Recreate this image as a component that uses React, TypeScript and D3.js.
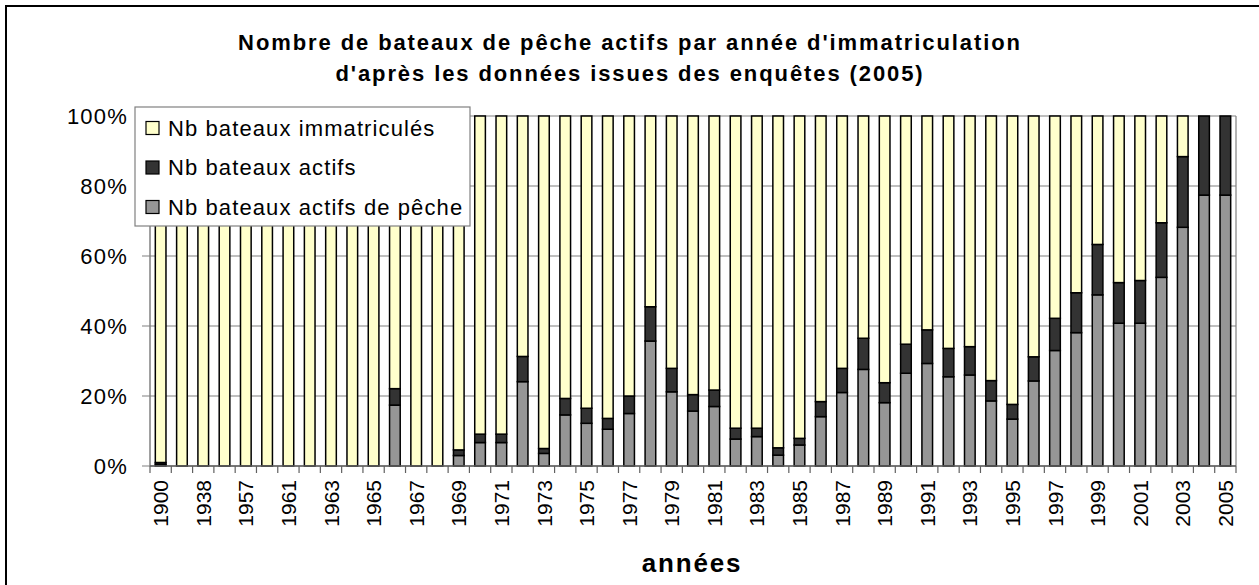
import React from 'react';
import * as d3 from 'd3';

// années d'immatriculation (one label shown out of two)
const years = [
  '1900', '1930', '1938', '1950', '1957', '1960', '1961', '1962', '1963', '1964',
  '1965', '1966', '1967', '1968', '1969', '1970', '1971', '1972', '1973', '1974',
  '1975', '1976', '1977', '1978', '1979', '1980', '1981', '1982', '1983', '1984',
  '1985', '1986', '1987', '1988', '1989', '1990', '1991', '1992', '1993', '1994',
  '1995', '1996', '1997', '1998', '1999', '2000', '2001', '2002', '2003', '2004', '2005',
];

// share of each year's boats, in %
const pecheActifs = [
  0.5, 0, 0, 0, 0, 0, 0, 0, 0, 0,
  0, 17.4, 0, 0, 3.0, 6.7, 6.7, 24.1, 3.6, 14.6,
  12.2, 10.5, 15.0, 35.7, 21.2, 15.7, 17.0, 7.7, 8.4, 3.1,
  6.0, 14.1, 21.0, 27.6, 18.1, 26.5, 29.3, 25.5, 26.0, 18.6,
  13.4, 24.3, 33.0, 38.1, 48.9, 40.8, 40.8, 53.9, 68.2, 77.4, 77.4,
];
const actifs = [
  0.5, 0, 0, 0, 0, 0, 0, 0, 0, 0,
  0, 4.7, 0, 0, 1.6, 2.4, 2.4, 7.2, 1.4, 4.7,
  4.3, 3.1, 5.0, 9.8, 6.7, 4.7, 4.7, 3.1, 2.4, 2.1,
  1.9, 4.3, 6.9, 8.9, 5.7, 8.3, 9.6, 8.1, 8.1, 5.8,
  4.2, 6.9, 9.2, 11.4, 14.4, 11.6, 12.2, 15.6, 20.2, 22.6, 22.6,
];
const immatricules = [
  99.0, 100, 100, 100, 100, 100, 100, 100, 100, 100,
  100, 77.9, 100, 100, 95.4, 90.9, 90.9, 68.7, 95.0, 80.7,
  83.5, 86.4, 80.0, 54.5, 72.1, 79.6, 78.3, 89.2, 89.2, 94.8,
  92.1, 81.6, 72.1, 63.5, 76.2, 65.2, 61.1, 66.4, 65.9, 75.6,
  82.4, 68.8, 57.8, 50.5, 36.7, 47.6, 47.0, 30.5, 11.6, 0, 0,
];

const seriesKeys = ['peche', 'actifs', 'immat'];
const seriesColors = { peche: '#969696', actifs: '#333333', immat: '#FFFFCC' };
const legendItems = [
  { key: 'immat', label: 'Nb bateaux immatriculés' },
  { key: 'actifs', label: 'Nb bateaux actifs' },
  { key: 'peche', label: 'Nb bateaux actifs de pêche' },
];
const yTicks = [0, 0.2, 0.4, 0.6, 0.8, 1];

const W = 1259;
const H = 585;
const plot = { l: 150, r: 1236, t: 116, b: 466 };

const App = () => {
  const rows = years.map((y, i) => ({
    year: y,
    peche: pecheActifs[i],
    actifs: actifs[i],
    immat: immatricules[i],
  }));
  const stacked = d3.stack().keys(seriesKeys).offset(d3.stackOffsetExpand)(rows);

  const x = d3.scaleBand().domain(years).range([plot.l, plot.r]).paddingInner(0.5).paddingOuter(0.25);
  const y = d3.scaleLinear().domain([0, 1]).range([plot.b, plot.t]);
  const step = x.step();
  const fmt = d3.format('.0%');

  return (
    <svg width={W} height={H} style={{ position: 'absolute', left: 0, top: 0, display: 'block' }}
      fontFamily="Arial, 'Liberation Sans', sans-serif">
      <rect x={0} y={0} width={W} height={H} fill="#fff" />
      <rect x={6} y={6} width={1300} height={620} fill="none" stroke="#000" strokeWidth={2} />

      <text x={630} y={50} textAnchor="middle" fontSize={22} fontWeight="bold" letterSpacing={1.9}>
        Nombre de bateaux de pêche actifs par année d'immatriculation
      </text>
      <text x={630} y={81} textAnchor="middle" fontSize={22} fontWeight="bold" letterSpacing={1.9}>
        d'après les données issues des enquêtes (2005)
      </text>

      {/* gridlines + plot frame */}
      {yTicks.map(t => (
        <line key={t} x1={plot.l - 8} x2={plot.r} y1={y(t)} y2={y(t)} stroke="#808080" strokeWidth={1.2} />
      ))}
      <line x1={plot.r} x2={plot.r} y1={plot.t} y2={plot.b} stroke="#808080" strokeWidth={1.2} />
      <line x1={plot.l} x2={plot.l} y1={plot.t} y2={plot.b} stroke="#808080" strokeWidth={1.5} />
      {yTicks.map(t => (
        <text key={t} x={128} y={y(t)} dy="0.36em" textAnchor="end" fontSize={22} letterSpacing={1.2}>
          {fmt(t)}
        </text>
      ))}

      {stacked.map(s => (
        <g key={s.key} fill={seriesColors[s.key]} stroke="#000" strokeWidth={1.5}>
          {s.map((d, i) => (d[1] - d[0] > 0 ? (
            <rect key={i} x={x(years[i])} y={y(d[1])} width={x.bandwidth()} height={y(d[0]) - y(d[1])} />
          ) : null))}
        </g>
      ))}

      {/* x axis */}
      <line x1={plot.l} x2={plot.r} y1={plot.b} y2={plot.b} stroke="#606060" strokeWidth={1.5} />
      {d3.range(years.length + 1).map(i => (
        <line key={i} x1={plot.l + i * step} x2={plot.l + i * step} y1={plot.b} y2={plot.b + 7}
          stroke="#606060" strokeWidth={1.2} />
      ))}
      {years.map((yr, i) => (i % 2 === 0 ? (
        <text key={yr} transform={`translate(${x(yr) + x.bandwidth() / 2},480) rotate(-90)`}
          textAnchor="end" dy="0.36em" fontSize={21}>
          {yr}
        </text>
      ) : null))}
      <text x={692} y={572} textAnchor="middle" fontSize={26} fontWeight="bold" letterSpacing={1.8}>
        années
      </text>

      {/* legend */}
      <rect x={135} y={107} width={335} height={119} fill="#fff" stroke="#808080" strokeWidth={1.2} />
      {legendItems.map((it, i) => {
        const cy = 128 + i * 39.5;
        return (
          <g key={it.key}>
            <rect x={146} y={cy - 6.5} width={13} height={13} fill={seriesColors[it.key]} stroke="#000" strokeWidth={1.2} />
            <text x={168} y={cy} dy="0.36em" fontSize={22} letterSpacing={1.1}>{it.label}</text>
          </g>
        );
      })}
    </svg>
  );
};

export default App;
